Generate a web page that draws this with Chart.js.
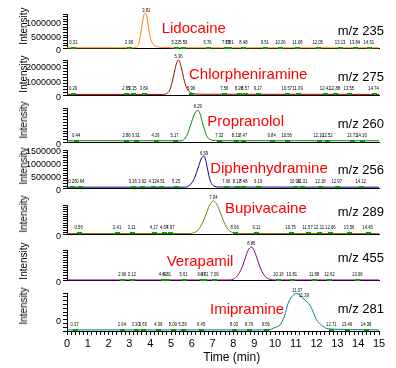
<!DOCTYPE html>
<html><head><meta charset="utf-8">
<script src="https://cdn.jsdelivr.net/npm/chart.js@4/dist/chart.umd.min.js"></script>
<style>
html,body{margin:0;padding:0;background:#fff}
body{width:396px;height:368px;position:relative;overflow:hidden;font-family:"Liberation Sans",Arial,sans-serif}
canvas{position:absolute;left:0}
.t{position:absolute;white-space:nowrap;line-height:1}
.name{color:#ff0000;font-size:15px}
.mz{color:#000;font-size:13px;right:12px}
.int{color:#000;font-size:10px;transform:translate(-50%,-50%) rotate(-90deg)}
.xt{color:#000;font-size:12px;transform:translateX(-50%)}
</style></head><body>
<script>
// ---------------- data ----------------
const compoundNames = ['Lidocaine','Chlorpheniramine','Propranolol','Diphenhydramine','Bupivacaine','Verapamil','Imipramine'];
const massLabels = ['m/z 235','m/z 275','m/z 260','m/z 256','m/z 289','m/z 455','m/z 281'];
const timeTickLabels = [0,1,2,3,4,5,6,7,8,9,10,11,12,13,14,15];
const xTitle = 'Time (min)';
const yTitle = 'Intensity';

const lidocaineTime = [0, 3.2, 3.35, 3.45, 3.55, 3.65, 3.75, 3.82, 3.9, 3.98, 4.08, 4.2, 4.4, 4.7, 5.5, 15];
const lidocaineIntensity = [30000, 30000, 60000, 200000, 600000, 1100000, 1330000, 1280000, 900000, 500000, 250000, 120000, 60000, 40000, 30000, 30000];

const chlorpheniramineTime = [0, 4.6, 4.8, 4.95, 5.05, 5.15, 5.25, 5.36, 5.45, 5.55, 5.65, 5.75, 5.85, 6.0, 6.2, 6.5, 15];
const chlorpheniramineIntensity = [80000, 80000, 150000, 400000, 900000, 1500000, 2100000, 2400000, 2150000, 1550000, 950000, 520000, 300000, 160000, 110000, 90000, 80000];

const propranololTime = [0, 5.5, 5.65, 5.8, 5.95, 6.1, 6.22, 6.3, 6.4, 6.5, 6.6, 6.7, 6.82, 7.0, 7.3, 15];
const propranololIntensity = [60000, 60000, 120000, 300000, 600000, 900000, 1050000, 1070000, 950000, 700000, 450000, 250000, 130000, 80000, 60000, 60000];

const diphenhydramineTime = [0, 5.7, 5.85, 6.0, 6.15, 6.3, 6.45, 6.57, 6.67, 6.77, 6.87, 6.97, 7.1, 7.3, 15];
const diphenhydramineIntensity = [55000, 55000, 100000, 220000, 450000, 800000, 1150000, 1270000, 1100000, 700000, 350000, 170000, 90000, 60000, 55000];

const bupivacaineTime = [0, 5.9, 6.1, 6.3, 6.5, 6.65, 6.8, 6.95, 7.04, 7.15, 7.3, 7.45, 7.6, 7.75, 7.9, 8.1, 8.4, 15];
const bupivacaineIntensity = [120000, 120000, 200000, 500000, 1200000, 2000000, 2900000, 3500000, 3650000, 3450000, 2800000, 1900000, 1100000, 550000, 280000, 160000, 120000, 120000];

const verapamilTime = [0, 7.8, 8.0, 8.2, 8.4, 8.55, 8.7, 8.86, 9.0, 9.15, 9.3, 9.45, 9.6, 9.8, 10.0, 15];
const verapamilIntensity = [50000, 50000, 120000, 400000, 1000000, 1700000, 2400000, 2700000, 2400000, 1700000, 1000000, 500000, 220000, 80000, 50000, 50000];

const imipramineTime = [0, 9.5, 9.83, 10.0, 10.23, 10.47, 10.63, 10.87, 11.03, 11.2, 11.43, 11.68, 11.83, 12.0, 12.24, 12.48, 12.8, 15];
const imipramineIntensity = [30000, 30000, 50000, 100000, 160000, 430000, 750000, 970000, 1020000, 970000, 840000, 700000, 520000, 300000, 160000, 70000, 50000, 30000];

// retention-time labels (peaks and small baseline marks)
const peakTimes = [[3.81],[5.36],[6.29],[6.59],[7.04],[8.86],[11.07,11.39]];
const lidocaineMarks = [0.31, 2.99, 5.22, 5.59, 6.76, 7.65, 7.81, 8.48, 9.51, 10.26, 11.08, 12.05, 13.13, 13.84, 14.51];
const chlorpheniramineMarks = [0.29, 2.85, 3.15, 3.69, 5.96, 7.56, 8.26, 8.57, 9.17, 10.57, 11.09, 12.41, 12.88, 13.55, 14.74];
const propranololMarks = [0.44, 2.86, 3.31, 4.26, 5.17, 7.32, 8.11, 8.47, 9.84, 10.56, 12.10, 12.52, 13.71, 14.16];
const diphenhydramineMarks = [0.26, 0.64, 3.16, 3.62, 4.12, 4.51, 5.25, 7.66, 8.17, 8.48, 9.19, 10.96, 11.31, 12.18, 12.97, 14.12];
const bupivacaineMarks = [0.56, 2.41, 3.11, 4.17, 4.67, 4.97, 8.06, 9.11, 10.75, 11.57, 12.11, 12.66, 13.56, 14.45];
const verapamilMarks = [2.66, 3.12, 4.61, 4.81, 5.61, 6.47, 6.61, 7.09, 10.16, 10.81, 11.88, 12.62, 13.96];
const imipramineMarks = [0.37, 2.64, 3.30, 3.65, 4.39, 5.09, 5.56, 6.45, 8.03, 8.76, 9.56, 12.71, 13.46, 14.38];

// axis ranges / tick steps (intensity)
const intensityMax = [1300000, 2400000, 1150000, 1500000, 3200000, 2450000, 1030000];
const intensityLabelStep = [500000, 1000000, 500000, 500000, 1000000, 1000000, 200000];
const intensityMinorStep = [100000, 200000, 100000, 100000, 250000, 200000, 100000];
const intensityLabelLimit = [Infinity, Infinity, Infinity, Infinity, Infinity, Infinity, 600000];

// ---------------- styles / layout ----------------
const traceColors = ['#ff8000','#a00000','#008000','#000090','#808000','#800080','#008080'];
const layout = {
  panelTop:    [14, 60, 108, 150, 205, 250, 293],
  panelBottom: [53, 100, 147, 193, 239, 285, 331],
  padTop: 16,
  labelOffset: [2, 2, 2, 2, 2, 2, -9],
  namePos: [[161.7,19.6],[189,66.3],[207.3,113.3],[210.2,159.6],[225,199.6],[166.7,253.3],[210,301.3]],
  mzTop: [24, 70, 117.3, 163.3, 204.7, 250.7, 301.7],
  intCenterY: [26, 74, 120, 166, 214, 261, 306],
  intCenterX: 23.5
};
const FONT = '"Liberation Sans", Arial, sans-serif';

const series = [
  {time: lidocaineTime, intensity: lidocaineIntensity, marks: lidocaineMarks},
  {time: chlorpheniramineTime, intensity: chlorpheniramineIntensity, marks: chlorpheniramineMarks},
  {time: propranololTime, intensity: propranololIntensity, marks: propranololMarks},
  {time: diphenhydramineTime, intensity: diphenhydramineIntensity, marks: diphenhydramineMarks},
  {time: bupivacaineTime, intensity: bupivacaineIntensity, marks: bupivacaineMarks},
  {time: verapamilTime, intensity: verapamilIntensity, marks: verapamilMarks},
  {time: imipramineTime, intensity: imipramineIntensity, marks: imipramineMarks}
];

function valueAt(ts, vs, t) {
  for (let k = 1; k < ts.length; k++) {
    if (t <= ts[k]) { const f = (t - ts[k-1]) / (ts[k] - ts[k-1]); return vs[k-1] + f * (vs[k] - vs[k-1]); }
  }
  return vs[vs.length - 1];
}

function smallText(ctx, txt, px, py) {
  ctx.save();
  ctx.translate(px, py);
  ctx.scale(0.7, 1);
  ctx.fillText(txt, 0, 0);
  ctx.restore();
}

function annotPlugin(s, peaks) {
  return {
    id: 'annot',
    afterDatasetsDraw(chart) {
      const ctx = chart.ctx, x = chart.scales.x, y = chart.scales.y;
      ctx.save();
      ctx.font = '6px ' + FONT;
      ctx.textAlign = 'center';
      ctx.textBaseline = 'alphabetic';
      const base = y.getPixelForValue(s.intensity[0]);
      s.marks.forEach(t => {
        const px = x.getPixelForValue(t);
        ctx.fillStyle = '#00a000';
        ctx.fillRect(Math.round(px) - 2, Math.round(base) - 1, 5, 2);
        ctx.fillStyle = '#000';
        smallText(ctx, t.toFixed(2), px, base - 4);
      });
      peaks.forEach(t => {
        const v = valueAt(s.time, s.intensity, t);
        ctx.fillStyle = '#000';
        smallText(ctx, t.toFixed(2), x.getPixelForValue(t), y.getPixelForValue(v) - 2);
      });
      ctx.restore();
    }
  };
}

function addText(cls, txt, css) {
  const d = document.createElement('div');
  d.className = 't ' + cls;
  d.textContent = txt;
  Object.assign(d.style, css);
  document.body.appendChild(d);
}

series.forEach((s, i) => {
  const isLast = i === series.length - 1;
  const xH = isLast ? 22 : 2;
  const areaH = layout.panelBottom[i] - layout.panelTop[i];
  const h = layout.padTop + areaH + xH + 1;
  const c = document.createElement('canvas');
  c.width = 396; c.height = h;
  c.style.top = (layout.panelTop[i] - layout.padTop) + 'px';
  c.style.width = '396px'; c.style.height = h + 'px';
  document.body.appendChild(c);
  const step = intensityLabelStep[i], lim = intensityLabelLimit[i];
  new Chart(c, {
    type: 'line',
    data: {
      datasets: [{
        data: s.time.map((t, k) => ({x: t, y: s.intensity[k]})),
        borderColor: traceColors[i], borderWidth: 1, pointRadius: 0, fill: false,
        cubicInterpolationMode: 'monotone', clip: false
      }]
    },
    options: {
      responsive: false, animation: false, devicePixelRatio: 1,
      layout: {padding: {top: layout.padTop, left: 0, right: 17, bottom: 1}},
      plugins: {legend: {display: false}, tooltip: {enabled: false}},
      scales: {
        x: {
          type: 'linear', min: 0, max: 15,
          afterFit: sc => { sc.height = xH; },
          grid: {drawOnChartArea: false, drawTicks: isLast, tickLength: 4, color: '#000'},
          border: {display: true, color: '#000', width: 1},
          ticks: {
            display: isLast, stepSize: 0.2, autoSkip: false, maxTicksLimit: 1000, maxRotation: 0, minRotation: 0,
            padding: 2, color: '#000', font: {size: 11, family: FONT},
            callback: v => (Math.abs(v - Math.round(v)) < 1e-6 && timeTickLabels.includes(Math.round(v))) ? String(Math.round(v)) : ''
          }
        },
        y: {
          type: 'linear', min: 0, max: intensityMax[i],
          afterFit: sc => { sc.width = 67; },
          grid: {drawOnChartArea: false, drawTicks: true, tickLength: 4, color: '#000'},
          border: {display: true, color: '#000', width: 1},
          ticks: {
            stepSize: intensityMinorStep[i], autoSkip: false, includeBounds: false, maxTicksLimit: 1000,
            labelOffset: layout.labelOffset[i], padding: 2, color: '#000', font: {size: 9, family: FONT},
            callback: v => (v % step === 0 && v <= lim) ? String(v) : ''
          }
        }
      }
    },
    plugins: [annotPlugin(s, peakTimes[i])]
  });
  addText('name', compoundNames[i], {left: layout.namePos[i][0] + 'px', top: layout.namePos[i][1] + 'px'});
  addText('mz', massLabels[i], {top: layout.mzTop[i] + 'px'});
  addText('int', yTitle, {left: layout.intCenterX + 'px', top: layout.intCenterY[i] + 'px'});
});
addText('xt', xTitle, {left: '231.7px', top: '351px'});
</script>
</body></html>
